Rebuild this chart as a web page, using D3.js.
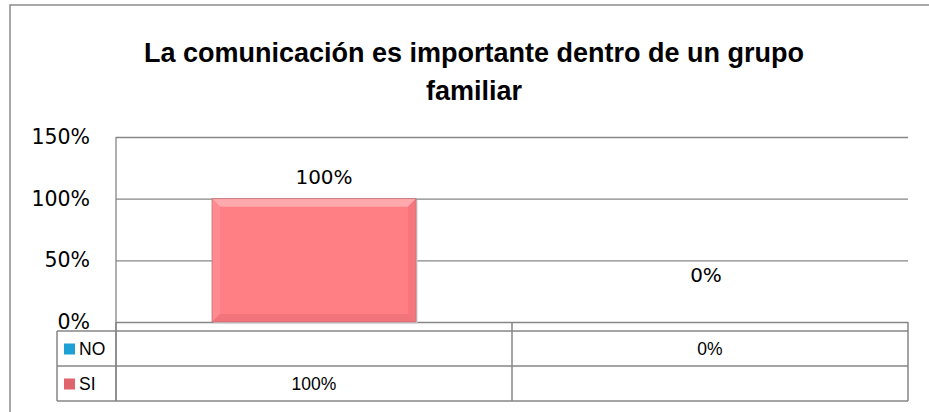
<!DOCTYPE html>
<html>
<head>
<meta charset="utf-8">
<script src="https://cdn.jsdelivr.net/npm/d3@7"></script>
<style>
  body { margin: 0; background: #fff; }
  svg { display: block; }
</style>
</head>
<body>
<div id="chart"></div>
<script>
// chart data
var titleLines = ["La comunicación es importante dentro de un grupo", "familiar"];
var categories = ["SI", "NO"];
var seriesNames = ["NO", "SI"];
var valuesNO = [null, 0];
var valuesSI = [1, null];
var yTicks = [0, 0.5, 1, 1.5];

var svgWidth = 929;
var svgHeight = 412;

// plot area
var plot = { left: 116, right: 908, top: 137, bottom: 322 };
var stripH = 9;     // empty category strip under the axis
var rowH = 35;      // data table row height
var legendLeft = 57;

var svg = d3.select("#chart")
  .append("svg")
  .attr("width", svgWidth)
  .attr("height", svgHeight);

// outer chart frame (only top / left visible)
svg.append("rect")
  .attr("x", 10).attr("y", 5)
  .attr("width", 940).attr("height", 430)
  .attr("fill", "none")
  .attr("stroke", "#8c8c8c")
  .attr("stroke-width", 1.5);

// title
svg.append("g")
  .attr("font-family", "'Liberation Sans', Arial, sans-serif")
  .attr("font-weight", "bold")
  .attr("font-size", 27)
  .attr("text-anchor", "middle")
  .selectAll("text")
  .data(titleLines)
  .enter().append("text")
  .attr("x", 474)
  .attr("y", (d, i) => 62 + i * 38)
  .text(d => d);

var xScale = d3.scaleBand()
  .domain(categories)
  .range([plot.left, plot.right])
  .padding(0);

var xInner = d3.scaleBand()
  .domain([0])
  .range([0, xScale.bandwidth()])
  .paddingInner(0.32)
  .paddingOuter(0.32);

var yScale = d3.scaleLinear()
  .domain([0, 1.5])
  .range([plot.bottom, plot.top]);

var fmt = d3.format(".0%");

// gridlines
var grid = d3.axisLeft(yScale)
  .tickValues(yTicks)
  .tickSize(-(plot.right - plot.left))
  .tickFormat("");

svg.append("g")
  .attr("transform", `translate(${plot.left},0)`)
  .call(grid)
  .call(g => g.select(".domain").remove())
  .call(g => g.selectAll("line").attr("stroke", "#868686").attr("stroke-width", 1.3));

// vertical axis line
svg.append("line")
  .attr("x1", plot.left).attr("x2", plot.left)
  .attr("y1", plot.top).attr("y2", plot.bottom + stripH + rowH * 2)
  .attr("stroke", "#868686").attr("stroke-width", 1.3);

// y axis labels
var leftAxis = d3.axisLeft(yScale)
  .tickValues(yTicks)
  .tickSize(0)
  .tickPadding(26)
  .tickFormat(fmt);

svg.append("g")
  .attr("transform", `translate(${plot.left},0)`)
  .call(leftAxis)
  .call(g => g.select(".domain").remove())
  .call(g => g.selectAll("text")
    .attr("font-family", "'DejaVu Sans', sans-serif")
    .attr("font-size", 20.5)
    .attr("fill", "#000"));

// bar with bevel
var barData = [];
categories.forEach(function(c, i) {
  if (valuesSI[i] !== null) barData.push({ cat: c, value: valuesSI[i], series: "SI" });
});

var barColor = { SI: "#ff7f84", NO: "#1ea0d4" };

var bars = svg.append("g")
  .selectAll("g")
  .data(barData)
  .enter().append("g");

bars.each(function(d) {
  var g = d3.select(this);
  var x0 = xScale(d.cat) + xInner(0);
  var w = xInner.bandwidth();
  var y0 = yScale(d.value);
  var h = yScale(0) - y0;
  var b = 8;
  // shadow
  g.append("rect")
    .attr("x", x0 + 1.5).attr("y", y0 + 1.5)
    .attr("width", w).attr("height", h)
    .attr("fill", "#cfcfcf");
  g.append("rect")
    .attr("x", x0).attr("y", y0)
    .attr("width", w).attr("height", h)
    .attr("fill", barColor[d.series]);
  // bevel edges
  var x1 = x0 + w, y1 = y0 + h;
  g.append("polygon")
    .attr("points", [[x0, y0], [x1, y0], [x1 - b, y0 + b], [x0 + b, y0 + b]].join(" "))
    .attr("fill", "#ffa9ad");
  g.append("polygon")
    .attr("points", [[x0, y0], [x0 + b, y0 + b], [x0 + b, y1 - b], [x0, y1]].join(" "))
    .attr("fill", "#ff8a8f");
  g.append("polygon")
    .attr("points", [[x1, y0], [x1, y1], [x1 - b, y1 - b], [x1 - b, y0 + b]].join(" "))
    .attr("fill", "#f5777c");
  g.append("polygon")
    .attr("points", [[x0, y1], [x1, y1], [x1 - b, y1 - b], [x0 + b, y1 - b]].join(" "))
    .attr("fill", "#f07479");
  g.append("rect")
    .attr("x", x0).attr("y", y0)
    .attr("width", w).attr("height", h)
    .attr("fill", "none")
    .attr("stroke", "#c07478").attr("stroke-width", 0.8);
});

// data labels above the bars
var labelData = [];
categories.forEach(function(c, i) {
  if (valuesSI[i] !== null) labelData.push({ cat: c, value: valuesSI[i] });
  if (valuesNO[i] !== null) labelData.push({ cat: c, value: valuesNO[i] });
});

svg.append("g")
  .attr("font-family", "'DejaVu Sans', sans-serif")
  .attr("font-size", 20)
  .attr("text-anchor", "middle")
  .selectAll("text")
  .data(labelData)
  .enter().append("text")
  .attr("x", d => xScale(d.cat) + xScale.bandwidth() / 2 + (d.value > 0 ? 10 : -4))
  .attr("y", d => Math.min(yScale(d.value) - 15, yScale(0) - 40))
  .text(d => fmt(d.value));

// data table
var lineColor = "#868686";
var tableTop = plot.bottom + stripH;
var tableBottom = tableTop + rowH * 2;
var table = svg.append("g")
  .attr("stroke", lineColor)
  .attr("stroke-width", 1.5)
  .attr("fill", "none");

// category strip + column lines
var colEdges = categories.map(c => xScale(c)).concat([plot.right]);
table.selectAll("line.col")
  .data(colEdges)
  .enter().append("line")
  .attr("x1", d => d).attr("x2", d => d)
  .attr("y1", plot.bottom).attr("y2", tableBottom);

// row lines
var rowYs = [tableTop, tableTop + rowH, tableBottom];
table.selectAll("line.row")
  .data(rowYs)
  .enter().append("line")
  .attr("x1", legendLeft).attr("x2", plot.right)
  .attr("y1", d => d).attr("y2", d => d);

table.append("line")
  .attr("x1", legendLeft).attr("x2", legendLeft)
  .attr("y1", tableTop).attr("y2", tableBottom);

// legend cells and values
var rows = [
  { name: seriesNames[0], values: valuesNO, color: "#1ea0d4" },
  { name: seriesNames[1], values: valuesSI, color: "#e0646c" }
];

var rowG = svg.append("g")
  .attr("font-family", "'Liberation Sans', Arial, sans-serif")
  .attr("font-size", 17.5)
  .selectAll("g")
  .data(rows)
  .enter().append("g")
  .attr("transform", (d, i) => `translate(0,${tableTop + i * rowH + rowH / 2})`);

rowG.append("rect")
  .attr("x", 64).attr("y", -5)
  .attr("width", 11).attr("height", 11)
  .attr("fill", d => d.color);

rowG.append("text")
  .attr("x", 79)
  .attr("y", 6)
  .text(d => d.name);

rowG.selectAll("text.val")
  .data(d => d.values.map((v, i) => ({ v: v, cat: categories[i] })).filter(e => e.v !== null))
  .enter().append("text")
  .attr("class", "val")
  .attr("text-anchor", "middle")
  .attr("x", d => xScale(d.cat) + xScale.bandwidth() / 2)
  .attr("y", 6)
  .text(d => fmt(d.v));
</script>
</body>
</html>
